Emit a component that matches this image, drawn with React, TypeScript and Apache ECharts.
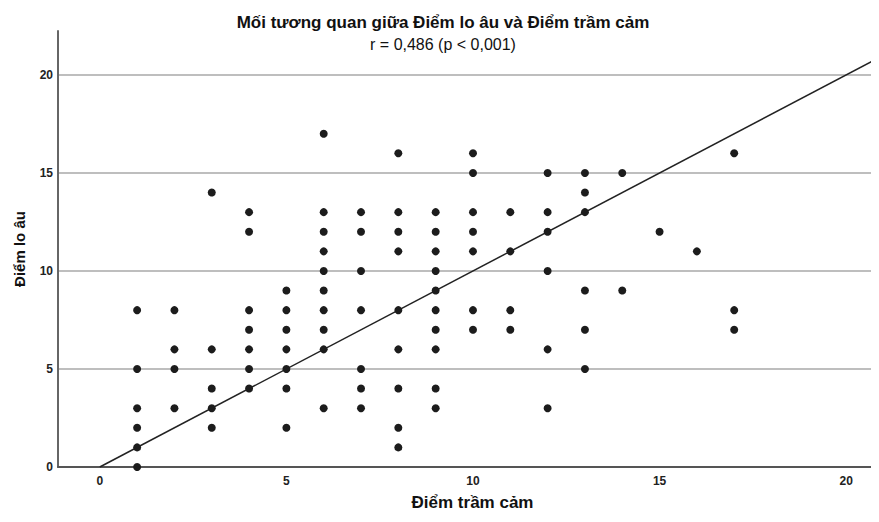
import React, { useEffect, useRef } from "react";
import * as echarts from "echarts";

const titleText = "Mối tương quan giữa Điểm lo âu và Điểm trầm cảm";
const subtitleText = "r = 0,486 (p < 0,001)";
const xAxisName = "Điểm trầm cảm";
const yAxisName = "Điểm lo âu";
const xTickValues = [0, 5, 10, 15, 20];

// Depression score (x) -> list of anxiety scores (y) observed
const depressionScores = [1, 2, 3, 4, 5, 6, 7, 8, 9, 10, 11, 12, 13, 14, 15, 16, 17];
const anxietyByDepression = [
  [8, 5, 3, 2, 1, 0],
  [8, 6, 5, 3],
  [14, 6, 4, 3, 2],
  [13, 12, 8, 7, 6, 5, 4],
  [9, 8, 7, 6, 5, 4, 2],
  [17, 13, 12, 11, 10, 9, 8, 7, 6, 3],
  [13, 12, 10, 8, 5, 4, 3],
  [16, 13, 12, 11, 8, 6, 4, 2, 1],
  [13, 12, 11, 10, 9, 8, 7, 6, 4, 3],
  [16, 15, 13, 12, 11, 8, 7],
  [13, 11, 8, 7],
  [15, 13, 12, 10, 6, 3],
  [15, 14, 13, 9, 7, 5],
  [15, 9],
  [12],
  [11],
  [16, 8, 7],
];
const referenceLine = [
  [0, 0],
  [25, 25],
];

export default function App() {
  const ref = useRef<HTMLDivElement>(null);
  useEffect(() => {
    if (!ref.current) return;
    const chart = echarts.init(ref.current, null, { renderer: "svg" });
    const points: number[][] = [];
    depressionScores.forEach((x, i) => {
      anxietyByDepression[i].forEach((y) => points.push([x, y]));
    });
    const font = "'Liberation Sans', Arial, sans-serif";
    chart.setOption({
      animation: false,
      backgroundColor: "#ffffff",
      textStyle: { fontFamily: font },
      title: [
        {
          text: titleText,
          left: 443,
          textAlign: "center",
          top: 14,
          padding: 0,
          textStyle: { fontSize: 17, fontWeight: "bold", color: "#111", fontFamily: font },
        },
        {
          text: subtitleText,
          left: 443,
          textAlign: "center",
          top: 36,
          padding: 0,
          textStyle: { fontSize: 16, fontWeight: "normal", color: "#111", fontFamily: font },
        },
      ],
      grid: { left: 58, right: 0, top: 31, bottom: 55, containLabel: false },
      xAxis: {
        type: "value",
        min: -1.12,
        max: 20.88,
        name: xAxisName,
        nameLocation: "middle",
        nameGap: 27,
        nameTextStyle: {
          fontSize: 17,
          fontWeight: "bold",
          color: "#111",
          fontFamily: font,
          padding: [0, 0, 0, 8],
        },
        axisLine: { show: true, onZero: false, lineStyle: { color: "#555", width: 2 } },
        axisTick: { show: false, customValues: xTickValues },
        splitLine: { show: false },
        axisLabel: {
          fontSize: 12,
          fontWeight: "bold",
          color: "#222",
          margin: 8,
          customValues: xTickValues,
        },
      },
      yAxis: {
        type: "value",
        min: 0,
        max: 22.24,
        interval: 5,
        name: yAxisName,
        nameLocation: "middle",
        nameGap: 31,
        nameRotate: 90,
        nameTextStyle: { fontSize: 15, fontWeight: "bold", color: "#111", fontFamily: font },
        axisLine: { show: true, onZero: false, lineStyle: { color: "#666", width: 2 } },
        axisTick: { show: false },
        splitLine: {
          show: true,
          showMinLine: false,
          showMaxLine: false,
          lineStyle: { color: "#a8a8a8", width: 1.5 },
        },
        axisLabel: {
          fontSize: 12,
          fontWeight: "bold",
          color: "#222",
          margin: 5,
          showMaxLabel: false,
        },
      },
      series: [
        {
          type: "line",
          data: referenceLine,
          symbol: "none",
          clip: true,
          lineStyle: { color: "#222", width: 1.5 },
          z: 3,
          silent: true,
        },
        {
          type: "scatter",
          data: points,
          symbolSize: 8,
          itemStyle: { color: "#1c1c1c", opacity: 1 },
          z: 4,
        },
      ],
    });
    return () => chart.dispose();
  }, []);
  return <div ref={ref} style={{ width: 879, height: 522, margin: -8 }} />;
}
